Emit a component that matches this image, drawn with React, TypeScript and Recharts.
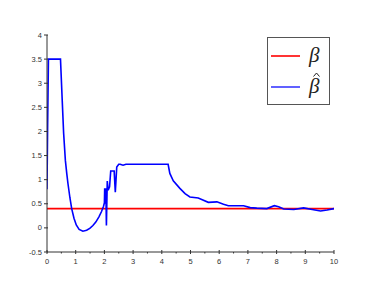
import { Line, LineChart, XAxis, YAxis } from 'recharts';

const betaX = [0, 10];
const betaY = [0.4, 0.4];

const hatX = [
  0, 0.02, 0.05, 0.47, 0.53, 0.58, 0.64, 0.69, 0.73, 0.8, 0.86, 0.94, 1.02, 1.12, 1.25, 1.38, 1.49, 1.6,
  1.7, 1.81, 1.9, 1.97, 2.0, 2.01, 2.03, 2.05, 2.07, 2.1, 2.13, 2.18, 2.22, 2.34, 2.38, 2.43, 2.5, 2.55,
  2.65, 2.75, 4.22, 4.28, 4.4, 4.63, 4.81, 4.98, 5.27, 5.39, 5.62, 5.92, 6.15, 6.32, 6.85, 7.08, 7.31,
  7.66, 7.92, 8.07, 8.25, 8.6, 8.94, 9.24, 9.53, 9.76, 10,
];
const hatY = [
  0.8, 2.0, 3.5, 3.5, 2.65, 1.96, 1.4, 1.12, 0.92, 0.62, 0.4, 0.2, 0.06, -0.03, -0.07, -0.05, -0.01, 0.05,
  0.12, 0.23, 0.34, 0.45, 0.52, 0.82, 0.5, 0.82, 0.05, 0.97, 0.78, 0.85, 1.18, 1.18, 0.74, 1.26, 1.32,
  1.32, 1.3, 1.32, 1.32, 1.13, 0.975, 0.82, 0.71, 0.64, 0.62, 0.59, 0.53, 0.54, 0.49, 0.46, 0.46, 0.42,
  0.41, 0.4, 0.46, 0.44, 0.39, 0.38, 0.415, 0.38, 0.35, 0.37, 0.4,
];

const xTicks = [0, 0.5, 1, 1.5, 2, 2.5, 3, 3.5, 4, 4.5, 5, 5.5, 6, 6.5, 7, 7.5, 8, 8.5, 9, 9.5, 10];
const yTicks = [-0.5, 0, 0.5, 1, 1.5, 2, 2.5, 3, 3.5, 4];

const betaData = betaX.map((x, i) => ({ x, y: betaY[i] }));
const hatData = hatX.map((x, i) => ({ x, y: hatY[i] }));

const font = '"Liberation Sans", Arial, sans-serif';

function XTick({ x, y, payload }: any) {
  const major = Number.isInteger(payload.value);
  return (
    <g>
      <line x1={x} x2={x} y1={major ? y - 2 : y} y2={major ? y + 2 : y + 1.5} stroke="#333" strokeWidth={1} />
      {major && (
        <text x={x} y={y + 12} textAnchor="middle" fontSize={7.5} fontFamily={font} fill="#333">
          {payload.value}
        </text>
      )}
    </g>
  );
}

function YTick({ x, y, payload }: any) {
  return (
    <g>
      <line x1={x - 3} x2={x + 1} y1={y} y2={y} stroke="#333" strokeWidth={1} />
      <text x={x - 5} y={y + 2.5} textAnchor="end" fontSize={7.5} fontFamily={font} fill="#333">
        {payload.value}
      </text>
    </g>
  );
}

export default function App() {
  return (
    <div style={{ position: 'fixed', left: 0, top: 0, width: 382, height: 288, background: '#fff' }}>
      <LineChart width={382} height={288} margin={{ top: 35, right: 48, left: 0, bottom: 0 }}>
        <XAxis
          type="number"
          dataKey="x"
          domain={[0, 10]}
          ticks={xTicks}
          interval={0}
          height={36}
          tickSize={0}
          tickMargin={0}
          tickLine={false}
          axisLine={{ stroke: '#333' }}
          tick={<XTick />}
          allowDataOverflow
        />
        <YAxis
          type="number"
          domain={[-0.5, 4]}
          ticks={yTicks}
          interval={0}
          width={47}
          tickSize={0}
          tickMargin={0}
          tickLine={false}
          axisLine={{ stroke: '#333' }}
          tick={<YTick />}
          allowDataOverflow
        />
        <Line
          data={betaData}
          dataKey="y"
          stroke="#ff0000"
          strokeWidth={1.6}
          dot={false}
          isAnimationActive={false}
        />
        <Line
          data={hatData}
          dataKey="y"
          type="linear"
          stroke="#0000ff"
          strokeWidth={1.6}
          dot={false}
          isAnimationActive={false}
        />
      </LineChart>
      <svg
        width={64}
        height={68}
        style={{ position: 'absolute', left: 267, top: 37 }}
      >
        <rect x={0.5} y={0.5} width={62} height={67} fill="#fff" stroke="#555" strokeWidth={1} />
        <line x1={4} x2={33} y1={19} y2={19} stroke="#ff0000" strokeWidth={1.6} />
        <line x1={4} x2={33} y1={50} y2={50} stroke="#3a3aff" strokeWidth={1.6} />
        <text x={42} y={25} fontSize={21} fontStyle="italic" fontFamily='"Liberation Serif", serif' fill="#222">
          β
        </text>
        <text x={42} y={56} fontSize={21} fontStyle="italic" fontFamily='"Liberation Serif", serif' fill="#222">
          β
        </text>
        <path d="M46.5 39.5 L49.5 36 L52.5 39.5" fill="none" stroke="#222" strokeWidth={1} />
      </svg>
    </div>
  );
}
